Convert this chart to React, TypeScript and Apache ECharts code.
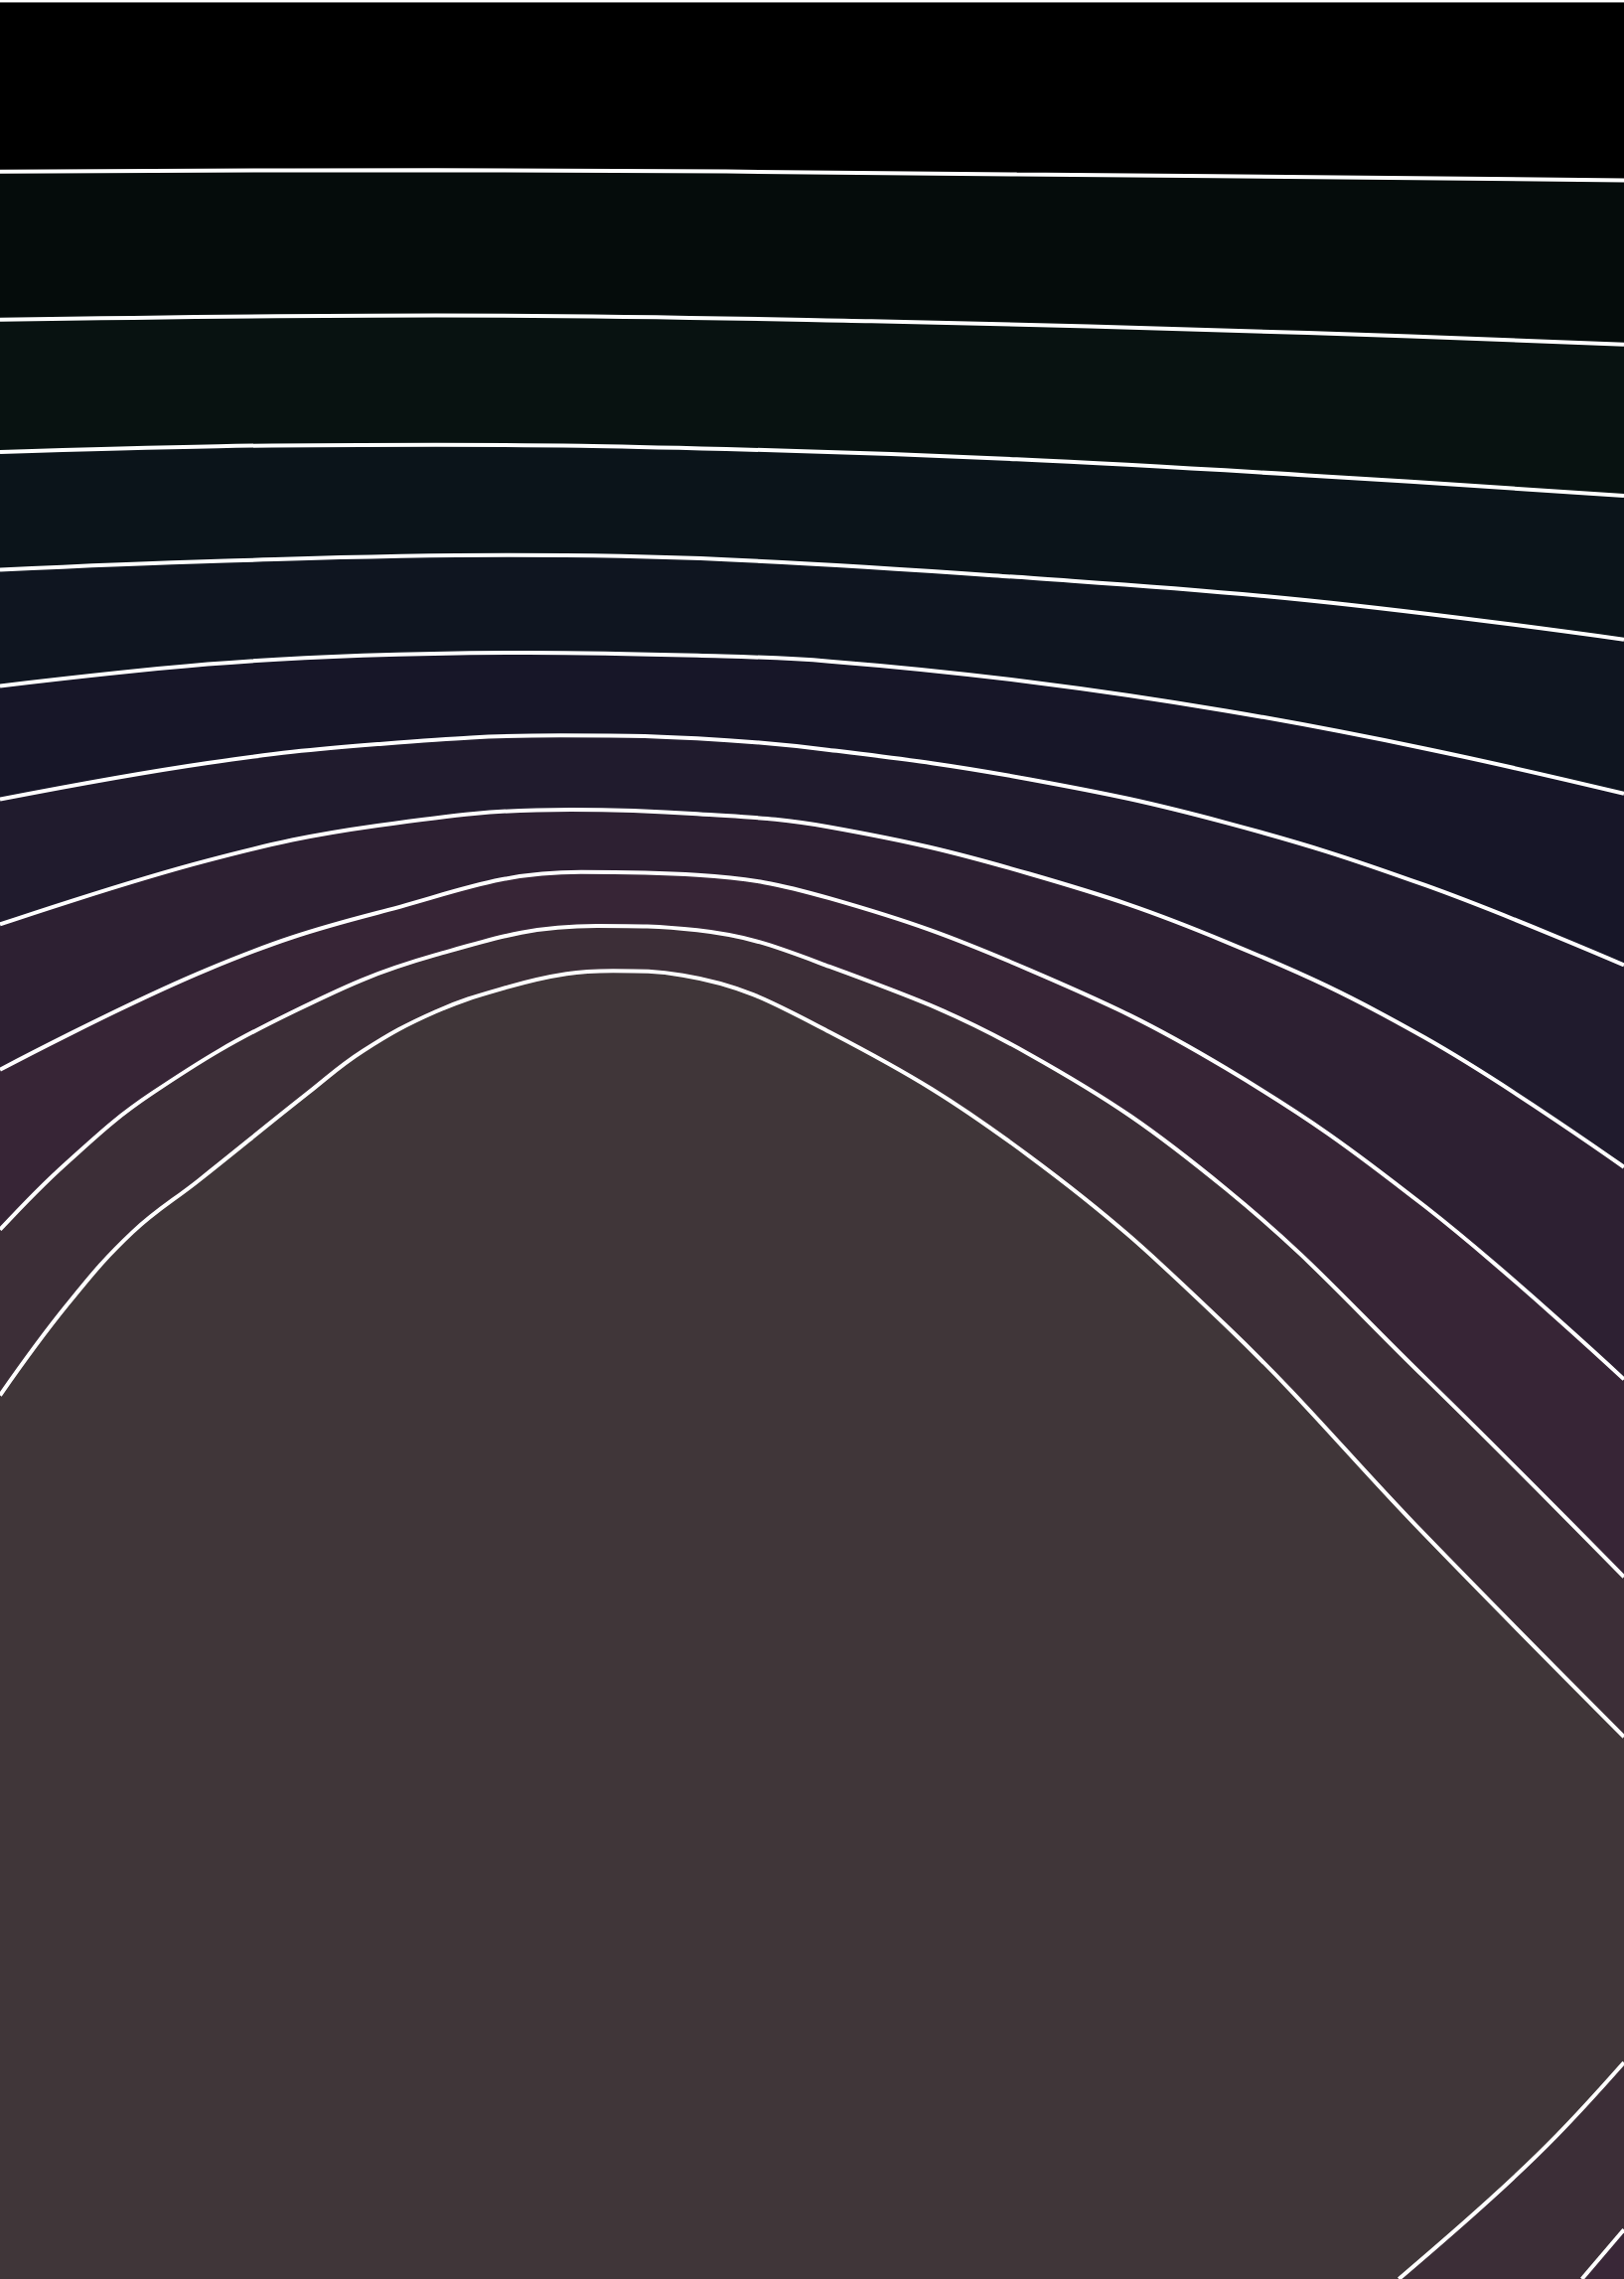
import React, { useEffect, useRef } from "react";
import * as echarts from "echarts";

// Contour lines, in reference units (x: 0..1118, y measured downward from top: 0..1568)
const contour1 = [[0, 118], [300, 117], [700, 120], [1118, 124]];
const contour2 = [[0, 220], [300, 217], [600, 221], [900, 229], [1118, 237]];
const contour3 = [[0, 311], [150, 307], [300, 306], [500, 309], [700, 316], [900, 327], [1118, 341]];
const contour4 = [[0, 392], [150, 386], [350, 382], [500, 385], [700, 397], [900, 413], [1118, 440]];
const contour5 = [[0, 472], [143, 457], [250, 451], [364, 449], [480, 451], [571, 455], [708, 469], [844, 489], [981, 515], [1118, 546]];
const contour6 = [[0, 550], [143, 525], [260, 512], [386, 506], [480, 508], [571, 516], [708, 536], [844, 566], [981, 609], [1118, 664]];
const contour7 = [[0, 636], [143, 592], [260, 568], [393, 557], [480, 560], [571, 569], [708, 601], [844, 648], [981, 714], [1118, 803]];
const contour8 = [[0, 736], [143, 667], [260, 628], [400, 600], [480, 602], [571, 618], [708, 667], [844, 735], [981, 830], [1118, 949]];
const contour9 = [[0, 846], [46, 800], [105, 752], [200, 697], [300, 657], [411, 637], [480, 640], [571, 665], [708, 725], [844, 818], [981, 948], [1118, 1085]];
const contour10 = [[0, 960], [46, 898], [91, 848], [137, 812], [212, 752], [250, 723], [300, 696], [350, 679], [390, 670], [422, 668], [470, 671], [571, 710], [708, 795], [844, 912], [981, 1056], [1118, 1195]];
const contour11 = [[963, 1568], [1026, 1513], [1071, 1470], [1118, 1419]];
const contour12 = [[1089, 1568], [1118, 1534]];

const contours = [contour1, contour2, contour3, contour4, contour5, contour6, contour7, contour8, contour9, contour10, contour11, contour12];
const bandColors = [
  "#050c0b", "#081211", "#0b141a", "#0f1520", "#171628", "#201b2d",
  "#2d2032", "#372536", "#3c2e37", "#403639", "#3c2e37", "#392737",
];
const topColor = "#000000";

export default function App() {
  const ref = useRef<HTMLDivElement>(null);
  useEffect(() => {
    if (!ref.current) return;
    const chart = echarts.init(ref.current, undefined, { renderer: "svg" });
    const series = contours.map((c, i) => ({
      type: "line",
      data: c,
      smooth: 0.4,
      showSymbol: false,
      silent: true,
      lineStyle: { color: "#ffffff", width: 4 },
      areaStyle: { color: bandColors[i], opacity: 1, origin: "end" },
      z: 2 + i,
    }));
    chart.setOption({
      animation: false,
      backgroundColor: topColor,
      grid: { left: 0, right: 0, top: 0, bottom: 0 },
      xAxis: { type: "value", min: 0, max: 1118, show: false },
      yAxis: { type: "value", min: 0, max: 1568, inverse: true, show: false },
      graphic: [
        { type: "rect", shape: { x: 0, y: 0, width: 1635, height: 2 }, style: { fill: "#ffffff" }, z: 100 },
        { type: "rect", shape: { x: 0, y: 2, width: 1635, height: 1 }, style: { fill: "#6a6a6a" }, z: 100 },
      ],
      series,
    });
    return () => chart.dispose();
  }, []);
  return (
    <div
      ref={ref}
      style={{ position: "absolute", left: 0, top: 0, width: 1635, height: 2294 }}
    />
  );
}
